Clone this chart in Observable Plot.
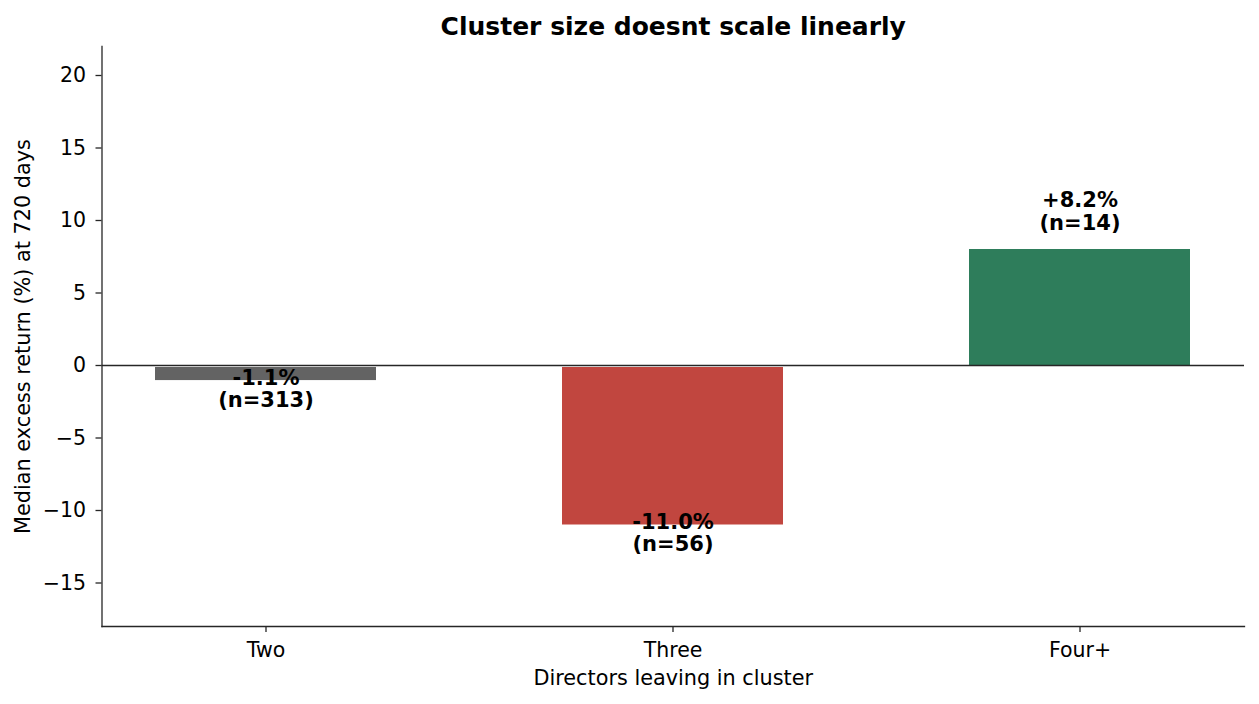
<!DOCTYPE html>
<html>
<head>
<meta charset="utf-8">
<script src="https://cdn.jsdelivr.net/npm/d3@7"></script>
<script src="https://cdn.jsdelivr.net/npm/@observablehq/plot@0.6"></script>
<style>
  html, body { margin: 0; padding: 0; background: #fff; }
  #chart svg { display: block; }
</style>
</head>
<body>
<div id="chart"></div>
<script>
// Data
const categories = ["Two", "Three", "Four+"];
const barValues = [-1.04, -11.0, 8.0];      // bar heights (%)
const labelValues = ["-1.1%", "-11.0%", "+8.2%"]; // printed labels
const counts = [313, 56, 14];
const colors = ["#636363", "#c1463f", "#2e7d5b"];
const yTicks = [-15, -10, -5, 0, 5, 10, 15, 20];

const title = "Cluster size doesnt scale linearly";
const xLabel = "Directors leaving in cluster";
const yLabel = "Median excess return (%) at 720 days";

const data = categories.map((c, i) => ({
  cat: c,
  value: barValues[i],
  label: `${labelValues[i]}\n(n=${counts[i]})`,
  color: colors[i]
}));

const font = "DejaVu Sans";
const axisColor = "#262626";

const neg = data.filter(d => d.value < 0);
const pos = data.filter(d => d.value >= 0);

const chart = Plot.plot({
  width: 1259,
  height: 704,
  marginLeft: 101.5,
  marginRight: 15,
  marginTop: 46,
  marginBottom: 78,
  style: { fontFamily: font, background: "#fff", color: "#000" },
  x: { type: "band", domain: categories, paddingInner: 0.457, paddingOuter: 0.132, label: null },
  y: { domain: [-18, 22], label: null },
  marks: [
    Plot.barY(neg, { x: "cat", y: "value", fill: "color", insetTop: 2 }),
    Plot.barY(pos, { x: "cat", y: "value", fill: "color" }),
    Plot.ruleY([0], { stroke: axisColor, strokeWidth: 1.4 }),
    Plot.frame({ anchor: "left", stroke: axisColor, strokeWidth: 1.3 }),
    Plot.frame({ anchor: "bottom", stroke: axisColor, strokeWidth: 1.3 }),
    Plot.axisY({
      ticks: yTicks,
      tickSize: 6,
      tickPadding: 10,
      fontSize: 20.5,
      stroke: axisColor,
      strokeWidth: 1.3,
      fill: "#000",
      label: null,
      tickFormat: d => d < 0 ? "\u2212" + Math.abs(d) : String(d)
    }),
    Plot.axisX({
      tickSize: 6,
      tickPadding: 10,
      fontSize: 20.5,
      stroke: axisColor,
      strokeWidth: 1.3,
      fill: "#000",
      label: null
    }),
    // value labels
    Plot.text(neg, {
      x: "cat", y: "value", text: "label",
      lineAnchor: "middle", dy: 8, lineHeight: 1.05,
      fontSize: 21, fontWeight: "bold", fill: "#000"
    }),
    Plot.text(pos, {
      x: "cat", y: "value", text: "label",
      lineAnchor: "bottom", dy: -20, lineHeight: 1.05,
      fontSize: 21, fontWeight: "bold", fill: "#000"
    }),
    // title
    Plot.text([title], {
      text: d => d, frameAnchor: "top", dy: -20, lineAnchor: "middle",
      fontSize: 25, fontWeight: "bold", fill: "#000"
    }),
    // x label
    Plot.text([xLabel], {
      text: d => d, frameAnchor: "bottom", dy: 52, lineAnchor: "middle",
      fontSize: 20.8, fill: "#000"
    }),
    // y label
    Plot.text([yLabel], {
      text: d => d, frameAnchor: "left", dx: -79, rotate: -90,
      textAnchor: "middle", lineAnchor: "middle",
      fontSize: 20.8, fill: "#000"
    })
  ]
});

document.getElementById("chart").appendChild(chart);
</script>
</body>
</html>
